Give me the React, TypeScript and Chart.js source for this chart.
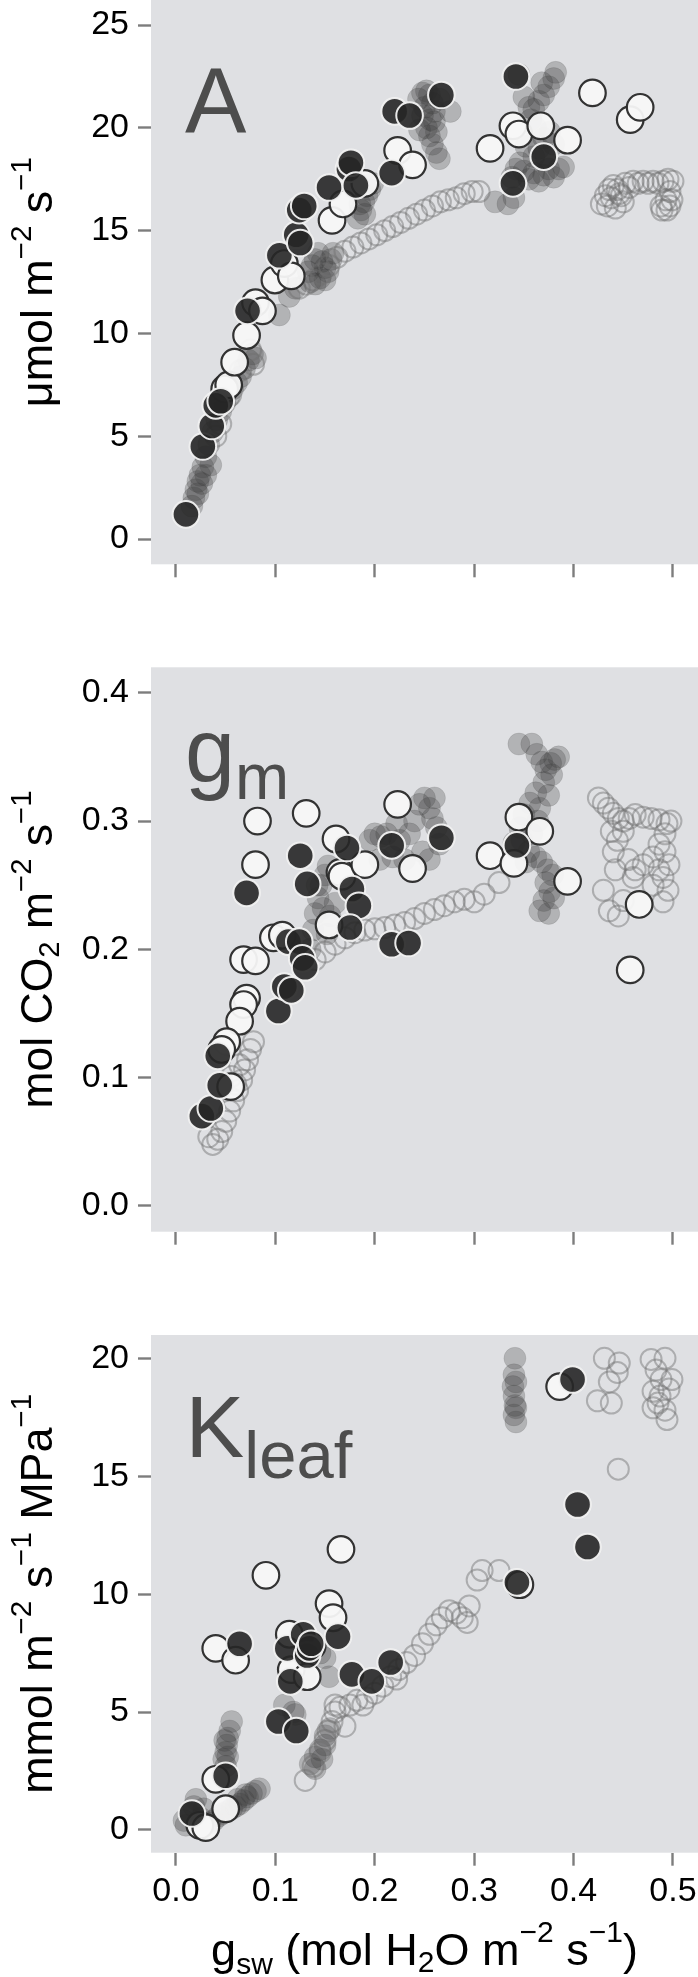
import React, { useEffect, useRef } from 'react';
import { Chart, registerables } from 'chart.js';

Chart.register(...registerables);

type P = [number, number];
type Seg = { t: string; s: number; dy: number };

const FONT = '"Liberation Sans", Arial, Helvetica, sans-serif';
const PLOT_BG = 'rgb(223,224,227)';
const LABEL_COLOR = 'rgb(77,77,77)';

// ---------- tick values ----------
const xTickValues = [0, 0.1, 0.2, 0.3, 0.4, 0.5];
const aTickValues = [0, 5, 10, 15, 20, 25];
const gmTickValues = [0, 0.1, 0.2, 0.3, 0.4];
const kTickValues = [0, 5, 10, 15, 20];

// ---------- Panel A : photosynthesis ----------
const aDark: P[] = [
  [0.010, 1.2], [0.027, 4.5], [0.036, 5.5], [0.040, 6.5], [0.045, 6.7], [0.072, 11.1],
  [0.104, 13.8], [0.121, 14.8], [0.125, 14.4], [0.124, 16.0], [0.129, 16.2], [0.154, 17.1],
  [0.174, 18.0], [0.176, 18.3], [0.181, 17.2], [0.217, 17.8], [0.220, 20.8], [0.235, 20.6],
  [0.267, 21.6], [0.342, 22.5], [0.339, 17.3], [0.370, 18.6],
];
const aWhite: P[] = [
  [0.049, 7.3], [0.053, 7.5], [0.059, 8.6], [0.071, 9.9], [0.080, 11.5], [0.087, 11.1],
  [0.0995, 12.6], [0.109, 13.4], [0.116, 12.8], [0.157, 15.5], [0.168, 16.3], [0.190, 17.3],
  [0.223, 18.9], [0.238, 18.2], [0.316, 19.0], [0.339, 20.1], [0.345, 19.7], [0.367, 20.1],
  [0.394, 19.4], [0.419, 21.7], [0.457, 20.4], [0.467, 21.0],
];
const aGrey: P[] = [
  [0.016, 1.6], [0.018, 2.0], [0.020, 2.4], [0.022, 2.8], [0.024, 3.1], [0.027, 3.5],
  [0.030, 4.0], [0.033, 4.6], [0.037, 5.2], [0.041, 5.8], [0.045, 6.2], [0.049, 6.6],
  [0.053, 6.9], [0.057, 7.3], [0.061, 7.6], [0.065, 7.9], [0.069, 8.3], [0.073, 8.7],
  [0.077, 9.0], [0.080, 8.8], [0.022, 2.2], [0.026, 2.7], [0.030, 3.1], [0.035, 3.6],
  [0.104, 10.9], [0.114, 11.8], [0.120, 12.2],
  [0.133, 13.0], [0.137, 13.3], [0.140, 13.6], [0.143, 13.9], [0.147, 13.5], [0.150, 13.2],
  [0.153, 13.0], [0.156, 13.6], [0.145, 12.7], [0.140, 12.4], [0.150, 12.6], [0.158, 13.9],
  [0.135, 12.5],
  [0.183, 15.6], [0.186, 16.0], [0.189, 16.4], [0.192, 16.7], [0.195, 17.0], [0.198, 17.3],
  [0.185, 16.3], [0.190, 15.8],
  [0.244, 21.4], [0.248, 21.7], [0.252, 21.8], [0.255, 21.6], [0.258, 21.2], [0.260, 20.8],
  [0.256, 20.4], [0.252, 20.0], [0.255, 19.6], [0.258, 19.2], [0.262, 18.8], [0.265, 18.5],
  [0.262, 19.8], [0.260, 20.3], [0.248, 20.6], [0.245, 19.9], [0.265, 21.4], [0.276, 20.8],
  [0.250, 21.0],
  [0.321, 16.4], [0.334, 16.3], [0.340, 16.6], [0.338, 17.6], [0.342, 18.0], [0.346, 18.3],
  [0.350, 17.9], [0.355, 17.5], [0.360, 17.8], [0.365, 17.4], [0.370, 17.7], [0.375, 18.0],
  [0.380, 17.6], [0.385, 18.0], [0.390, 18.1], [0.360, 18.6], [0.365, 19.0], [0.370, 19.5],
  [0.362, 20.0], [0.357, 20.4], [0.360, 20.9], [0.365, 21.3], [0.370, 21.6], [0.375, 22.0],
  [0.380, 22.4], [0.382, 22.7], [0.355, 21.0], [0.350, 21.5], [0.368, 22.2], [0.345, 22.6],
  [0.376, 19.8], [0.372, 18.6], [0.380, 19.2], [0.352, 19.1],
];
const aOpen: P[] = [
  [0.124, 12.2], [0.131, 12.4], [0.138, 12.6], [0.146, 12.9], [0.154, 13.3], [0.162, 13.7],
  [0.170, 14.0], [0.178, 14.2], [0.186, 14.4], [0.194, 14.6], [0.202, 14.8], [0.210, 15.0],
  [0.218, 15.2], [0.226, 15.4], [0.234, 15.6], [0.242, 15.8], [0.250, 16.0], [0.258, 16.2],
  [0.266, 16.4], [0.274, 16.5], [0.282, 16.6], [0.290, 16.8], [0.298, 16.9], [0.305, 16.9],
  [0.428, 16.3], [0.434, 16.2], [0.438, 16.6], [0.440, 17.2], [0.444, 17.0], [0.448, 16.7],
  [0.452, 17.3], [0.456, 17.1], [0.460, 17.4], [0.465, 17.3], [0.470, 17.4], [0.475, 17.3],
  [0.480, 17.4], [0.485, 17.3], [0.490, 17.4], [0.495, 17.5], [0.500, 17.4], [0.497, 16.9],
  [0.493, 16.5], [0.488, 16.2], [0.494, 16.0], [0.499, 16.5], [0.442, 16.1], [0.450, 16.4],
  [0.446, 16.8], [0.436, 17.0], [0.432, 16.7], [0.489, 16.0], [0.497, 16.2],
  [0.040, 5.0], [0.045, 5.6], [0.055, 7.0], [0.065, 8.2], [0.075, 9.2], [0.078, 8.5],
];

// ---------- Panel gm : mesophyll conductance ----------
const gmDark: P[] = [
  [0.026, 0.070], [0.035, 0.076], [0.044, 0.094], [0.042, 0.117], [0.071, 0.244], [0.103, 0.152],
  [0.109, 0.171], [0.116, 0.168], [0.113, 0.206], [0.124, 0.206], [0.125, 0.273], [0.132, 0.251],
  [0.127, 0.193], [0.130, 0.186], [0.172, 0.279], [0.177, 0.247], [0.184, 0.234], [0.175, 0.217],
  [0.217, 0.204], [0.234, 0.205], [0.217, 0.281], [0.267, 0.287], [0.343, 0.281],
];
const gmWhite: P[] = [
  [0.082, 0.300], [0.080, 0.266], [0.068, 0.192], [0.080, 0.191], [0.071, 0.162], [0.068, 0.157],
  [0.064, 0.144], [0.051, 0.128], [0.046, 0.122], [0.055, 0.093], [0.098, 0.209], [0.107, 0.211],
  [0.131, 0.306], [0.161, 0.286], [0.165, 0.260], [0.167, 0.257], [0.154, 0.219], [0.190, 0.266],
  [0.223, 0.313], [0.238, 0.263], [0.316, 0.273], [0.345, 0.303], [0.340, 0.267], [0.366, 0.292],
  [0.394, 0.253], [0.466, 0.235], [0.457, 0.184],
];
const gmGrey: P[] = [
  [0.135, 0.200], [0.138, 0.215], [0.140, 0.228], [0.143, 0.240], [0.146, 0.250], [0.150, 0.258],
  [0.153, 0.265], [0.148, 0.232], [0.155, 0.226], [0.160, 0.236], [0.142, 0.250], [0.152, 0.212],
  [0.195, 0.285], [0.200, 0.290], [0.206, 0.288], [0.212, 0.290], [0.218, 0.272], [0.225, 0.285],
  [0.230, 0.270], [0.235, 0.290], [0.240, 0.300], [0.245, 0.313], [0.250, 0.318], [0.255, 0.310],
  [0.258, 0.302], [0.262, 0.295], [0.265, 0.282], [0.255, 0.270], [0.248, 0.276], [0.205, 0.270],
  [0.222, 0.298], [0.260, 0.318],
  [0.345, 0.360], [0.358, 0.360], [0.363, 0.352], [0.368, 0.346], [0.372, 0.340], [0.377, 0.345],
  [0.381, 0.348], [0.385, 0.350], [0.378, 0.336], [0.370, 0.330], [0.362, 0.322], [0.356, 0.314],
  [0.350, 0.305], [0.346, 0.295], [0.348, 0.285], [0.355, 0.276], [0.362, 0.272], [0.368, 0.268],
  [0.374, 0.262], [0.379, 0.258], [0.372, 0.252], [0.376, 0.245], [0.370, 0.238], [0.366, 0.230],
  [0.375, 0.228], [0.380, 0.240], [0.358, 0.290], [0.364, 0.300], [0.340, 0.283], [0.352, 0.268],
  [0.366, 0.310], [0.375, 0.320],
];
const gmOpen: P[] = [
  [0.140, 0.192], [0.150, 0.198], [0.160, 0.204], [0.170, 0.209], [0.180, 0.213], [0.190, 0.215],
  [0.200, 0.216], [0.210, 0.217], [0.220, 0.219], [0.230, 0.221], [0.240, 0.224], [0.250, 0.228],
  [0.260, 0.231], [0.270, 0.234], [0.280, 0.237], [0.290, 0.239], [0.300, 0.237], [0.310, 0.243],
  [0.325, 0.252],
  [0.033, 0.054], [0.037, 0.048], [0.042, 0.052], [0.046, 0.058], [0.050, 0.066], [0.054, 0.074],
  [0.058, 0.082], [0.062, 0.090], [0.066, 0.098], [0.069, 0.106], [0.072, 0.114], [0.075, 0.122],
  [0.078, 0.128], [0.060, 0.095], [0.056, 0.101], [0.064, 0.110],
  [0.425, 0.318], [0.430, 0.314], [0.435, 0.310], [0.440, 0.306], [0.445, 0.302], [0.450, 0.300],
  [0.456, 0.302], [0.462, 0.305], [0.470, 0.303], [0.478, 0.302], [0.486, 0.301], [0.494, 0.298],
  [0.438, 0.292], [0.444, 0.285], [0.450, 0.292], [0.440, 0.276], [0.430, 0.246], [0.436, 0.230],
  [0.442, 0.262], [0.455, 0.270], [0.462, 0.262], [0.470, 0.266], [0.480, 0.272], [0.486, 0.282],
  [0.492, 0.276], [0.496, 0.266], [0.490, 0.256], [0.495, 0.246], [0.490, 0.237], [0.480, 0.250],
  [0.486, 0.262], [0.460, 0.256], [0.450, 0.238], [0.445, 0.226], [0.492, 0.290], [0.498, 0.300],
];

// ---------- Panel Kleaf : leaf hydraulic conductance ----------
const kDark: P[] = [
  [0.016, 0.7], [0.050, 2.3], [0.064, 7.9], [0.103, 4.6], [0.121, 4.2], [0.115, 6.3],
  [0.112, 7.7], [0.128, 8.3], [0.132, 7.4], [0.134, 7.7], [0.136, 7.9], [0.163, 8.2],
  [0.177, 6.6], [0.197, 6.3], [0.216, 7.1], [0.343, 10.5], [0.399, 19.1], [0.404, 13.8],
  [0.414, 12.0],
];
const kWhite: P[] = [
  [0.040, 2.15], [0.040, 7.7], [0.060, 7.2], [0.0905, 10.8], [0.166, 11.9], [0.154, 9.6],
  [0.158, 9.0], [0.114, 8.3], [0.116, 6.8], [0.132, 6.5], [0.137, 7.8], [0.386, 18.8],
  [0.346, 10.4], [0.024, 0.2], [0.030, 0.1], [0.050, 0.9],
];
const kGrey: P[] = [
  [0.008, 0.4], [0.013, 0.7], [0.018, 1.0], [0.020, 1.3], [0.025, 0.5], [0.028, 0.9], [0.010, 0.2],
  [0.048, 3.0], [0.050, 3.3], [0.050, 2.7], [0.051, 3.6], [0.052, 3.9], [0.054, 4.2], [0.056, 4.6],
  [0.049, 3.8], [0.052, 3.1],
  [0.038, 0.4], [0.043, 0.6], [0.047, 0.7], [0.052, 0.8], [0.056, 0.9], [0.060, 1.0], [0.064, 1.1],
  [0.068, 1.25], [0.072, 1.4], [0.076, 1.55], [0.080, 1.65], [0.084, 1.75], [0.062, 1.3],
  [0.070, 1.5], [0.034, 0.3],
  [0.109, 5.3], [0.120, 4.9], [0.130, 6.5], [0.154, 6.5], [0.145, 7.5], [0.150, 7.3], [0.118, 5.0],
  [0.135, 2.8], [0.140, 3.1], [0.145, 3.4], [0.150, 3.6], [0.150, 4.0], [0.155, 4.3], [0.140, 2.6],
  [0.147, 3.0],
  [0.341, 20.0], [0.340, 19.3], [0.342, 19.0], [0.340, 18.4], [0.341, 18.0], [0.340, 17.6],
  [0.342, 17.3], [0.339, 18.8], [0.342, 17.9],
];
const kOpen: P[] = [
  [0.130, 2.1], [0.138, 2.7], [0.145, 3.3], [0.150, 3.8], [0.153, 4.2], [0.157, 4.6], [0.160, 5.0],
  [0.165, 5.2], [0.170, 4.4], [0.175, 5.3], [0.182, 5.5], [0.188, 5.3], [0.192, 5.6], [0.200, 5.8],
  [0.208, 6.1], [0.216, 6.5], [0.224, 6.8], [0.232, 7.1], [0.240, 7.4], [0.248, 7.9], [0.255, 8.3],
  [0.262, 8.7], [0.268, 9.0], [0.275, 9.3], [0.282, 9.2], [0.288, 9.0], [0.293, 8.8], [0.295, 9.5],
  [0.303, 10.6], [0.308, 11.0], [0.325, 11.0], [0.222, 6.4], [0.160, 5.3],
  [0.424, 18.2], [0.431, 20.0], [0.438, 18.1], [0.444, 19.4], [0.446, 19.8], [0.436, 19.0],
  [0.478, 19.95], [0.483, 19.5], [0.492, 20.0], [0.487, 18.4], [0.492, 17.8], [0.494, 17.4],
  [0.499, 19.1], [0.480, 18.6], [0.485, 18.1], [0.488, 19.1], [0.480, 17.9], [0.496, 18.7],
  [0.445, 15.3],
];

// ---------- text helpers ----------
function drawRich(
  ctx: CanvasRenderingContext2D,
  segs: Seg[],
  x: number,
  y: number,
  rot: number,
  targetLen: number,
  color: string,
  align: 'center' | 'left' = 'center'
) {
  ctx.save();
  ctx.translate(x, y);
  ctx.rotate(rot);
  let w = 0;
  const widths: number[] = [];
  for (const g of segs) {
    ctx.font = `${g.s}px ${FONT}`;
    const m = ctx.measureText(g.t).width;
    widths.push(m);
    w += m;
  }
  const sx = targetLen > 0 ? targetLen / w : 1;
  ctx.scale(sx, 1);
  ctx.fillStyle = color;
  ctx.textBaseline = 'alphabetic';
  ctx.textAlign = 'left';
  let cx = align === 'center' ? -w / 2 : 0;
  segs.forEach((g, i) => {
    ctx.font = `${g.s}px ${FONT}`;
    ctx.fillText(g.t, cx, g.dy);
    cx += widths[i];
  });
  ctx.restore();
}

// y-axis titles
const YS = 44;
const YSS = 29;
const YSUP = -21;
const YSUB = 7;
// x-axis title
const XS = 45;
const XSS = 30;
const XSUP = -23;

const aTitle: Seg[] = [
  { t: 'μmol m', s: YS, dy: 0 }, { t: '−2', s: YSS, dy: YSUP },
  { t: ' s', s: YS, dy: 0 }, { t: '−1', s: YSS, dy: YSUP },
];
const gmTitle: Seg[] = [
  { t: 'mol CO', s: YS, dy: 0 }, { t: '2', s: YSS, dy: YSUB },
  { t: ' m', s: YS, dy: 0 }, { t: '−2', s: YSS, dy: YSUP },
  { t: ' s', s: YS, dy: 0 }, { t: '−1', s: YSS, dy: YSUP },
];
const kTitle: Seg[] = [
  { t: 'mmol m', s: YS, dy: 0 }, { t: '−2', s: YSS, dy: YSUP },
  { t: ' s', s: YS, dy: 0 }, { t: '−1', s: YSS, dy: YSUP },
  { t: ' MPa', s: YS, dy: 0 }, { t: '−1', s: YSS, dy: YSUP },
];
const xTitle: Seg[] = [
  { t: 'g', s: XS, dy: 0 }, { t: 'sw', s: XSS, dy: 9 },
  { t: ' (mol H', s: XS, dy: 0 }, { t: '2', s: XSS, dy: 7 },
  { t: 'O m', s: XS, dy: 0 }, { t: '−2', s: XSS, dy: XSUP },
  { t: ' s', s: XS, dy: 0 }, { t: '−1', s: XSS, dy: XSUP },
  { t: ')', s: XS, dy: 0 },
];

// ---------- panel configs ----------
interface PanelCfg {
  canvasTop: number;
  canvasH: number;
  areaTop: number;
  areaBottom: number;
  yMin: number;
  yMax: number;
  yTicks: number[];
  yFmt: (v: number) => string;
  showXLabels: boolean;
  dark: P[];
  white: P[];
  grey: P[];
  open: P[];
  label: Seg[];
  labelX: number;
  labelBaseline: number;
  yTitle: Seg[];
  yTitleLen: number;
  xTitle?: Seg[];
}

const X_MIN = -0.02515;
const X_MAX = 0.5252;
const AXIS_W = 151;
const TICK_FONT = 34;

const panels: PanelCfg[] = [
  {
    canvasTop: 0, canvasH: 620, areaTop: 0, areaBottom: 564.3,
    yMin: -1.23, yMax: 26.22, yTicks: aTickValues, yFmt: (v) => String(Math.round(v)),
    showXLabels: false,
    dark: aDark, white: aWhite, grey: aGrey, open: aOpen,
    label: [{ t: 'A', s: 92, dy: 0 }], labelX: 185, labelBaseline: 133,
    yTitle: aTitle, yTitleLen: 250,
  },
  {
    canvasTop: 640, canvasH: 620, areaTop: 667.3, areaBottom: 1231.7,
    yMin: -0.02003, yMax: 0.4198, yTicks: gmTickValues, yFmt: (v) => v.toFixed(1),
    showXLabels: false,
    dark: gmDark, white: gmWhite, grey: gmGrey, open: gmOpen,
    label: [{ t: 'g', s: 90, dy: 0 }, { t: 'm', s: 65, dy: 17 }], labelX: 185, labelBaseline: 782,
    yTitle: gmTitle, yTitleLen: 318,
  },
  {
    canvasTop: 1300, canvasH: 677, areaTop: 1335, areaBottom: 1852.7,
    yMin: -0.9625, yMax: 20.988, yTicks: kTickValues, yFmt: (v) => String(Math.round(v)),
    showXLabels: true,
    dark: kDark, white: kWhite, grey: kGrey, open: kOpen,
    label: [{ t: 'K', s: 88, dy: 0 }, { t: 'leaf', s: 67, dy: 21 }], labelX: 185.6, labelBaseline: 1457,
    yTitle: kTitle, yTitleLen: 400,
    xTitle: xTitle,
  },
];

const toXY = (pts: P[]) => pts.map(([x, y]) => ({ x, y }));

function makeConfig(p: PanelCfg): any {
  const padTop = p.areaTop - p.canvasTop;
  const xAxisH = p.canvasH - (p.areaBottom - p.canvasTop);
  const tickGrid = {
    display: true,
    drawOnChartArea: false,
    drawTicks: true,
    tickLength: 13,
    tickColor: 'rgb(125,125,125)',
    tickWidth: 2.4,
  };
  const bgPlugin = {
    id: 'plotBg',
    beforeDraw(chart: any) {
      const { ctx, chartArea: a } = chart;
      ctx.save();
      ctx.fillStyle = PLOT_BG;
      ctx.fillRect(a.left, a.top, a.right - a.left, a.bottom - a.top);
      ctx.restore();
    },
  };
  const textPlugin = {
    id: 'texts',
    afterDraw(chart: any) {
      const { ctx, chartArea: a } = chart;
      drawRich(ctx, p.label, p.labelX, p.labelBaseline - p.canvasTop, 0, 0, LABEL_COLOR, 'left');
      const cy = (a.top + a.bottom) / 2;
      drawRich(ctx, p.yTitle, 52, cy, -Math.PI / 2, p.yTitleLen, '#000');
      if (p.xTitle) {
        drawRich(ctx, p.xTitle, (a.left + a.right) / 2, 1965 - p.canvasTop, 0, 0, '#000');
      }
    },
  };
  const ds = (
    label: string, pts: P[], bg: string, border: string, bw: number, r: number, order: number
  ) => ({
    label,
    data: toXY(pts),
    showLine: false,
    backgroundColor: bg,
    borderColor: border,
    pointBackgroundColor: bg,
    pointBorderColor: border,
    pointBorderWidth: bw,
    pointRadius: r,
    pointHoverRadius: r,
    order,
  });
  return {
    type: 'scatter',
    data: {
      datasets: [
        ds('dark', p.dark, 'rgba(38,38,38,0.9)', 'rgba(242,242,242,0.95)', 2, 13.3, 1),
        ds('white', p.white, 'rgba(247,247,247,0.95)', 'rgba(40,40,40,0.95)', 2.2, 13.3, 2),
        ds('open', p.open, 'rgba(0,0,0,0)', 'rgba(110,110,110,0.45)', 2, 10.5, 3),
        ds('grey', p.grey, 'rgba(60,60,60,0.27)', 'rgba(60,60,60,0.12)', 1, 11, 4),
      ],
    },
    options: {
      animation: false,
      responsive: false,
      maintainAspectRatio: false,
      events: [],
      layout: { autoPadding: false, padding: { top: padTop, left: 0, right: 0, bottom: 0 } },
      plugins: {
        legend: { display: false },
        tooltip: { enabled: false },
        title: { display: false },
      },
      scales: {
        x: {
          type: 'linear',
          position: 'bottom',
          min: X_MIN,
          max: X_MAX,
          border: { display: false },
          grid: tickGrid,
          ticks: {
            display: p.showXLabels,
            autoSkip: false,
            maxRotation: 0,
            includeBounds: false,
            color: '#000',
            padding: 6,
            font: { size: TICK_FONT, family: FONT },
            callback: (v: any) => Number(v).toFixed(1),
          },
          afterBuildTicks: (s: any) => {
            s.ticks = xTickValues.map((v) => ({ value: v }));
          },
          afterFit: (s: any) => {
            s.height = xAxisH;
            s.paddingLeft = 0;
            s.paddingRight = 0;
            s.paddingTop = 0;
            s.paddingBottom = 0;
          },
        },
        y: {
          type: 'linear',
          position: 'left',
          min: p.yMin,
          max: p.yMax,
          border: { display: false },
          grid: tickGrid,
          ticks: {
            autoSkip: false,
            includeBounds: false,
            color: '#000',
            padding: 9,
            font: { size: TICK_FONT, family: FONT },
            callback: (v: any) => p.yFmt(Number(v)),
          },
          afterBuildTicks: (s: any) => {
            s.ticks = p.yTicks.map((v) => ({ value: v }));
          },
          afterFit: (s: any) => {
            s.width = AXIS_W;
            s.paddingLeft = 0;
            s.paddingRight = 0;
            s.paddingTop = 0;
            s.paddingBottom = 0;
          },
        },
      },
    },
    plugins: [bgPlugin, textPlugin],
  };
}

function Panel({ cfg }: { cfg: PanelCfg }) {
  const ref = useRef<HTMLCanvasElement>(null);
  useEffect(() => {
    if (!ref.current) return;
    const chart = new Chart(ref.current, makeConfig(cfg));
    return () => chart.destroy();
  }, [cfg]);
  return (
    <canvas
      ref={ref}
      width={698}
      height={cfg.canvasH}
      style={{
        position: 'absolute',
        left: 0,
        top: cfg.canvasTop,
        width: 698,
        height: cfg.canvasH,
        display: 'block',
      }}
    />
  );
}

export default function App() {
  return (
    <div
      style={{
        position: 'absolute',
        left: 0,
        top: 0,
        width: 698,
        height: 1977,
        background: '#fff',
        overflow: 'hidden',
      }}
    >
      {panels.map((p, i) => (
        <Panel key={i} cfg={p} />
      ))}
    </div>
  );
}
